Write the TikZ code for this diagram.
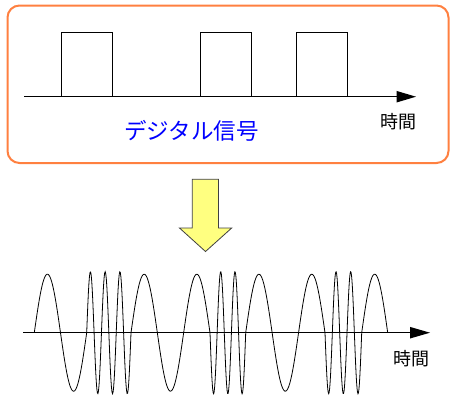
\documentclass[tikz,border=0pt]{standalone}
\usepackage{fontspec}
\usepackage{xcolor}
\usepackage{tikz}
\newfontfamily\jpfont{Noto Sans CJK JP}
\definecolor{boxorange}{RGB}{255,128,64}
\definecolor{arrowyellow}{RGB}{255,255,128}
\definecolor{labelblue}{RGB}{0,0,255}

\begin{document}
\begin{tikzpicture}[x=1pt, y=-1pt]
            \tikzstyle{every node}+=[inner sep=0pt]
            \tikzstyle{wave}=[black, line width=0.8pt]
            \tikzstyle{axis}=[black, line width=1.2pt]
            \useasboundingbox (0,0) rectangle (457,407);
            % digital signal
            \draw [boxorange, line width=2pt, rounded corners=12pt] (7.5,5.5) rectangle (448.5,163);
            \coordinate (d0) at (24,96.7);
            \coordinate (d1) at (416,96.7);
            \draw [axis] (d0) -- ([xshift=-10pt]d1);
            \fill [black] (d1) -- ++(-19.5,-5.8) -- ++(0,11.6) -- cycle;
            \foreach \s/\e in {61.7/112.3, 200/251.3, 296.3/347.3}
                \draw [black, line width=0.9pt] (\s,96.7) -- (\s,32.3) -- (\e,32.3) -- (\e,96.7);
            \node (dtime) at (398.5,122) {\jpfont\fontsize{18}{18}\selectfont 時間};
            \node [labelblue] (dlabel) at (191.3,131) {\jpfont\fontsize{22.5}{22.5}\selectfont デジタル信号};
            % conversion arrow
            \draw [black!75, fill=arrowyellow, line width=0.8pt] (192.3,179.3) -- (218.5,179.3) -- (218.5,228) -- (231.7,228)
                -- (205.5,251.5) -- (179.5,228) -- (192.3,228) -- cycle;
            % modulated signal
            \coordinate (m0) at (23,332.7);
            \coordinate (m1) at (430,332.7);
            \draw [axis] (m0) -- ([xshift=-10pt]m1);
            \fill [black] (m1) -- ++(-20,-5.8) -- ++(0,11.6) -- cycle;
            \foreach \a/\b/\h/\A in {34.3/86.7/26.2/58.5, 86.7/131/7.383/61, 131/210/26.33/58.5,
                210/245.7/7.14/-61, 245.7/325/26.43/58.5, 325/361.7/7.34/-61, 361.7/387.7/26/58.5}
                \draw [wave] plot [domain=\a:\b, samples=80] (\x, {332.7-\A*sin(180*(\x-\a)/\h)});
            \node (mtime) at (411.7,359) {\jpfont\fontsize{18}{18}\selectfont 時間};
\end{tikzpicture}
\end{document}
